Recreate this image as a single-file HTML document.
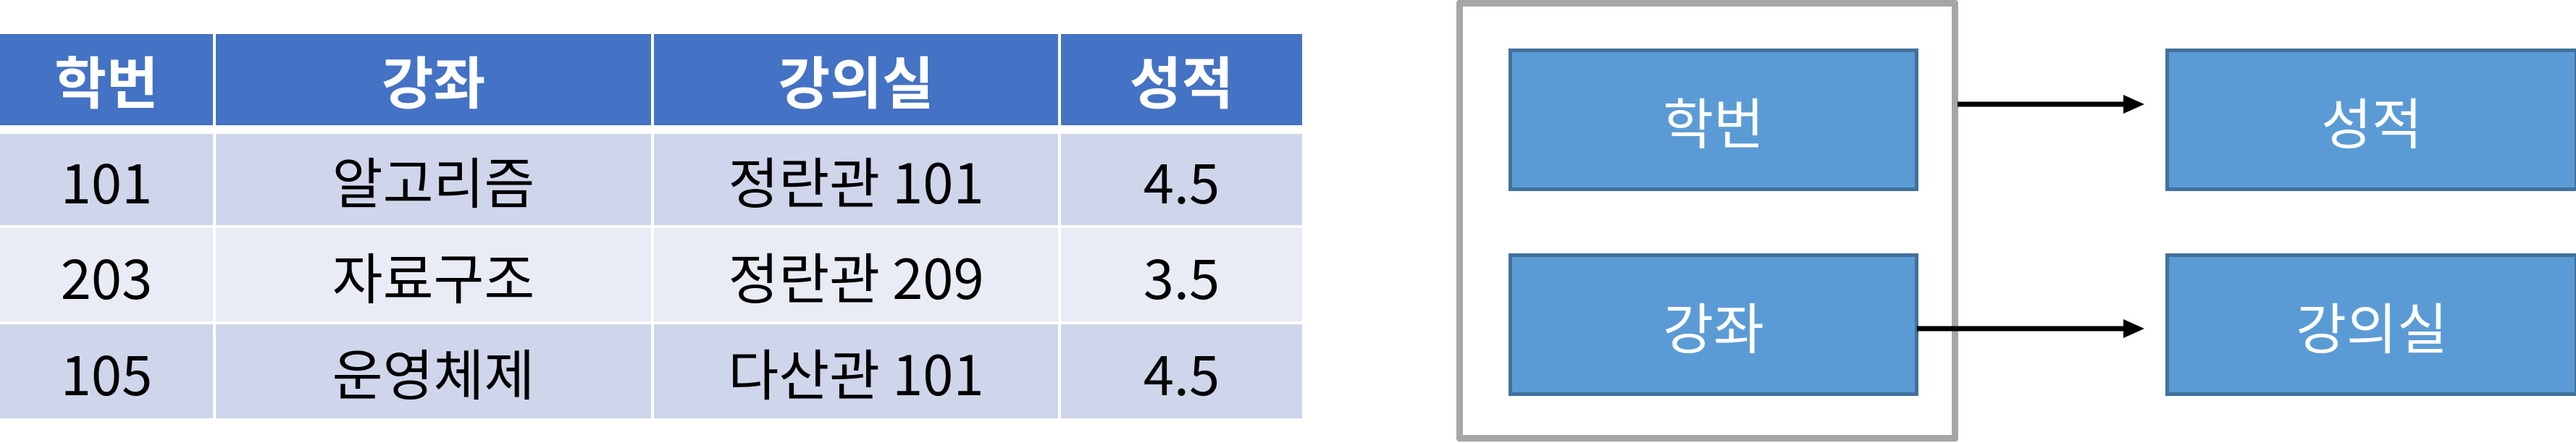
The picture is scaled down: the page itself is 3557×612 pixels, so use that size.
<!DOCTYPE html>
<html><head><meta charset="utf-8"><style>
body{margin:0;width:3557px;height:612px;background:#fff;position:relative;overflow:hidden;font-family:"Noto Sans CJK KR","NanumGothic","Liberation Sans",sans-serif}
.c{position:absolute;display:flex;align-items:center;justify-content:center;box-sizing:border-box;line-height:1}
.h{background:#4472C4;color:#fff;font-weight:bold;font-size:78px}
.o{background:#CFD5EA;color:#000;font-size:76px}
.e{background:#E9EBF5;color:#000;font-size:76px}
.b{background:#5B9BD5;border:5px solid #41719C;color:#fff;font-size:76px}
</style></head><body>
<div>
<div class="c h" style="left:0;top:47px;width:294px;height:126px">학번</div>
<div class="c h" style="left:298px;top:47px;width:601px;height:126px">강좌</div>
<div class="c h" style="left:903px;top:47px;width:558px;height:126px">강의실</div>
<div class="c h" style="left:1465px;top:47px;width:333px;height:126px">성적</div>

<div class="c o" style="left:0;top:185px;width:294px;height:126px">101</div>
<div class="c o" style="left:298px;top:185px;width:601px;height:126px">알고리즘</div>
<div class="c o" style="left:903px;top:185px;width:558px;height:126px">정란관 101</div>
<div class="c o" style="left:1465px;top:185px;width:333px;height:126px">4.5</div>

<div class="c e" style="left:0;top:315px;width:294px;height:129px">203</div>
<div class="c e" style="left:298px;top:315px;width:601px;height:129px">자료구조</div>
<div class="c e" style="left:903px;top:315px;width:558px;height:129px">정란관 209</div>
<div class="c e" style="left:1465px;top:315px;width:333px;height:129px">3.5</div>

<div class="c o" style="left:0;top:448px;width:294px;height:130px">105</div>
<div class="c o" style="left:298px;top:448px;width:601px;height:130px">운영체제</div>
<div class="c o" style="left:903px;top:448px;width:558px;height:130px">다산관 101</div>
<div class="c o" style="left:1465px;top:448px;width:333px;height:130px">4.5</div>
</div>

<div style="position:absolute;left:2011px;top:0;width:693px;height:610px;box-sizing:border-box;border:9px solid #A6A6A6;border-radius:4px"></div>
<div class="c b" style="left:2083px;top:67px;width:566px;height:197px">학번</div>
<div class="c b" style="left:2083px;top:350px;width:566px;height:197px">강좌</div>
<div class="c b" style="left:2990px;top:67px;width:570px;height:197px">성적</div>
<div class="c b" style="left:2990px;top:350px;width:570px;height:197px">강의실</div>

<svg style="position:absolute;left:0;top:0" width="3557" height="612">
<g><line x1="2703" y1="144" x2="2935" y2="144" stroke="#000" stroke-width="7"/><polygon points="2932,131 2961,144 2932,157" fill="#000"/></g>
<g><line x1="2647" y1="454" x2="2935" y2="454" stroke="#000" stroke-width="7"/><polygon points="2932,441 2961,454 2932,467" fill="#000"/></g>
</svg>
</body></html>
